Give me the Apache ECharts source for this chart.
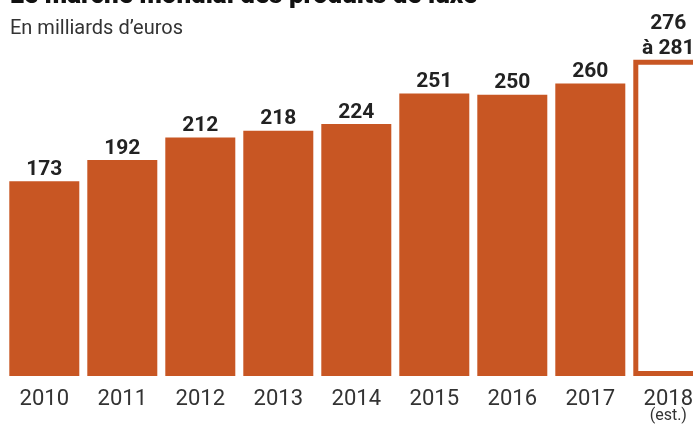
<!DOCTYPE html>
<html>
<head>
<meta charset="utf-8">
<script src="https://cdn.jsdelivr.net/npm/echarts@6/dist/echarts.min.js"></script>
<style>
html,body{margin:0;padding:0;background:#fff;overflow:hidden;}
#chart{width:708px;height:424px;}
</style>
</head>
<body>
<div id="chart"></div>
<script>
// Data
const years = ['2010','2011','2012','2013','2014','2015','2016','2017','2018'];
const yearNotes = ['','','','','','','','','(est.)'];
const values = [173, 192, 212, 218, 224, 251, 250, 260, 281];
const valueLabels = ['173','192','212','218','224','251','250','260','276\nà 281'];
const estimated = [false,false,false,false,false,false,false,false,true];
const titleText = 'Le marché mondial des produits de luxe';
const subtitleText = 'En milliards d\u2019euros';

const ORANGE = '#c85623';

const chart = echarts.init(document.getElementById('chart'), null, {renderer:'canvas'});

const seriesData = values.map((v, i) => {
  const item = { value: v, label: { formatter: valueLabels[i] } };
  if (estimated[i]) {
    item.itemStyle = { color: '#ffffff', borderColor: ORANGE, borderWidth: 5 };
    item.label.lineHeight = 25;
    item.label.distance = -1;
  }
  return item;
});

chart.setOption({
  animation: false,
  backgroundColor: '#ffffff',
  grid: { left: 5.3, right: 0.7, top: 38.4, bottom: 43.3, containLabel: false },
  xAxis: {
    type: 'category',
    data: years,
    axisLine: { show: false },
    axisTick: { show: false },
    axisLabel: {
      margin: 13,
      interval: 0,
      formatter: function (val, idx) {
        return yearNotes[idx] ? '{y|' + val + '}\n{e|' + yearNotes[idx] + '}' : '{y|' + val + '}';
      },
      rich: {
        y: { fontFamily: 'Roboto, sans-serif', fontSize: 22, color: '#333333', lineHeight: 20 },
        e: { fontFamily: 'Roboto, sans-serif', fontSize: 16, color: '#333333', lineHeight: 14 }
      }
    }
  },
  yAxis: {
    type: 'value',
    min: 0,
    max: 300,
    show: false,
    splitLine: { show: false }
  },
  graphic: [
    {
      type: 'text', x: 10, y: -4,
      style: { text: titleText, fill: '#111111', font: '900 26px Roboto, sans-serif', verticalAlign: 'middle' }
    },
    {
      type: 'text', x: 10, y: 29,
      style: { text: subtitleText, fill: '#333333', font: '400 20px Roboto, sans-serif', verticalAlign: 'middle' }
    }
  ],
  series: [{
    type: 'bar',
    data: seriesData,
    barWidth: 70,
    itemStyle: { color: ORANGE },
    label: {
      show: true,
      position: 'top',
      distance: 1,
      color: '#222222',
      fontFamily: 'Roboto, sans-serif',
      fontWeight: 'bold',
      fontSize: 21
    }
  }]
});
</script>
</body>
</html>
